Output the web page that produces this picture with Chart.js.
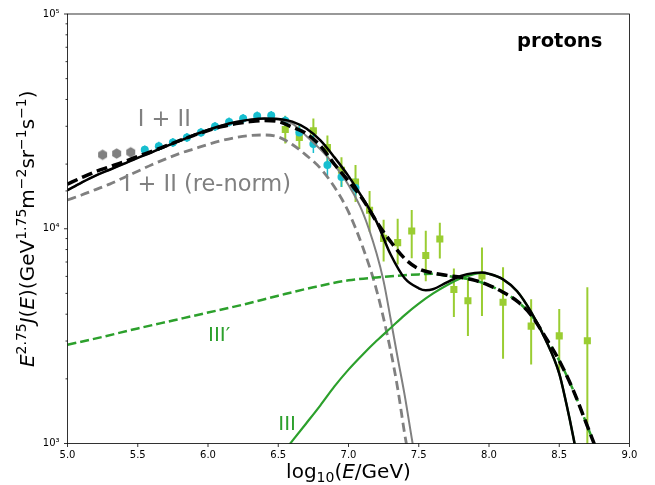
<!DOCTYPE html>
<html>
<head>
<meta charset="utf-8">
<script src="https://cdn.jsdelivr.net/npm/chart.js@4/dist/chart.umd.min.js"></script>
<style>
  html, body { margin: 0; padding: 0; background: #fff; }
  #wrap { width: 655px; height: 485px; }
</style>
</head>
<body>
<div id="wrap"><canvas id="c" width="655" height="485"></canvas></div>
<script>
// ---- measured fluxes: E^2.75 J(E) ----
const grayX = [5.25, 5.35, 5.45];
const grayY = [22100, 22400, 22700];

const cyanX  = [5.55, 5.65, 5.75, 5.85, 5.95, 6.05, 6.15, 6.25, 6.35, 6.45, 6.55, 6.65, 6.75, 6.85, 6.95, 7.05];
const cyanY  = [23300, 24200, 25200, 26600, 28100, 29900, 31400, 32600, 33500, 33700, 31800, 28100, 24800, 19800, 17400, 15500];
const cyanLo = [22210, 23070, 24020, 25360, 26790, 28500, 29930, 31080, 31940, 32130, 30150, 26080, 22540, 17610, 15640, 13940];
const cyanHi = [24440, 25390, 26430, 27900, 29480, 31370, 32940, 34200, 35140, 35350, 33540, 30270, 27290, 22260, 19350, 17240];

const greenX  = [6.55, 6.65, 6.75, 6.85, 6.95, 7.05, 7.15, 7.25, 7.35, 7.45, 7.55, 7.65, 7.75, 7.85, 7.95, 8.1, 8.3, 8.5, 8.7];
const greenY  = [28960, 26600, 28570, 23920, 18730, 16490, 12200, 9020, 8620, 9760, 7500, 8960, 5210, 4620, 6020, 4550, 3520, 3170, 3010];
const greenLo = [24960, 23490, 23920, 20390, 15630, 13330, 9690, 7040, 6820, 7290, 5690, 7270, 3880, 3170, 3920, 2480, 2330, 2140, 800];
const greenHi = [33620, 30230, 32570, 27180, 21500, 19820, 14980, 11010, 11120, 12240, 9790, 10660, 6535, 5810, 8170, 6625, 4700, 4230, 5340];

// ---- model curves ----
// total, model with component III
const totalX = [5.0, 5.1, 5.2, 5.3, 5.4, 5.5, 5.6, 5.7, 5.8, 5.9, 6.0, 6.1, 6.2, 6.3, 6.4, 6.5, 6.6, 6.7, 6.8, 6.9, 7.0, 7.1, 7.2, 7.3, 7.4, 7.5, 7.55, 7.6, 7.7, 7.8, 7.9, 7.95, 8.0, 8.1, 8.2, 8.3, 8.4, 8.5, 8.55, 8.6, 8.65];
const totalY = [15140, 16400, 17670, 18830, 20070, 21390, 22690, 24180, 25690, 27330, 28820, 30230, 31380, 32220, 32630, 32460, 31540, 29270, 25770, 21500, 17580, 13910, 10770, 7585, 5877, 5283, 5171, 5227, 5630, 6035, 6230, 6250, 6165, 5813, 5117, 4093, 3071, 2117, 1538, 1072, 715];

// total, model with component III'
const totalPX = [5.0, 5.1, 5.2, 5.3, 5.4, 5.5, 5.6, 5.7, 5.8, 5.9, 6.0, 6.1, 6.2, 6.3, 6.4, 6.5, 6.6, 6.7, 6.8, 6.9, 7.0, 7.1, 7.2, 7.3, 7.4, 7.5, 7.6, 7.7, 7.8, 7.9, 8.0, 8.1, 8.2, 8.3, 8.4, 8.5, 8.6, 8.7, 8.76];
const totalPY = [16140, 17290, 18440, 19440, 20500, 21740, 22930, 24310, 25770, 27240, 28670, 29910, 30880, 31540, 31880, 31540, 29750, 27760, 24310, 19970, 16670, 13760, 10770, 8710, 7268, 6501, 6230, 6066, 5938, 5752, 5454, 5063, 4600, 3964, 3137, 2431, 1767, 1205, 953];

// components I + II
const galX = [5.0, 5.1, 5.2, 5.3, 5.4, 5.5, 5.6, 5.7, 5.8, 5.9, 6.0, 6.1, 6.2, 6.3, 6.4, 6.5, 6.6, 6.7, 6.8, 6.9, 7.0, 7.1, 7.2, 7.25, 7.3, 7.35, 7.4, 7.45, 7.47];
const galY = [15140, 16400, 17670, 18830, 20070, 21390, 22690, 24180, 25690, 27330, 28820, 30230, 31380, 32220, 32560, 32280, 30880, 27040, 23420, 19760, 15970, 11980, 7666, 5690, 3800, 2509, 1675, 1060, 885];

// components I + II, re-normalised
const galRX = [5.0, 5.1, 5.2, 5.3, 5.4, 5.5, 5.6, 5.7, 5.8, 5.9, 6.0, 6.1, 6.2, 6.3, 6.4, 6.5, 6.6, 6.7, 6.8, 6.9, 7.0, 7.1, 7.2, 7.3, 7.35, 7.4, 7.42];
const galRY = [13610, 14360, 15220, 16140, 17290, 18530, 19860, 21160, 22440, 23540, 24690, 25770, 26600, 27180, 27330, 26750, 24690, 21970, 19130, 15630, 11980, 8259, 5171, 2703, 1805, 1106, 933];

// component III'
const compPX = [5.0, 5.25, 5.5, 5.75, 6.0, 6.25, 6.5, 6.75, 7.0, 7.25, 7.5, 7.6, 7.7, 7.8, 7.9, 8.0, 8.1, 8.2, 8.3, 8.4, 8.5, 8.6, 8.7, 8.76];
const compPY = [2881, 3137, 3434, 3739, 4071, 4434, 4878, 5340, 5752, 5970, 6131, 6165, 6035, 5906, 5752, 5454, 5063, 4600, 3964, 3137, 2431, 1767, 1205, 953];

// component III
const compX = [6.55, 6.7, 6.8, 6.9, 7.0, 7.1, 7.2, 7.3, 7.4, 7.5, 7.6, 7.7, 7.8, 7.9, 7.95, 8.0, 8.1, 8.2, 8.3, 8.4, 8.5, 8.55, 8.6, 8.65];
const compY = [935, 1243, 1506, 1844, 2208, 2591, 3007, 3452, 3964, 4481, 4984, 5454, 5877, 6165, 6230, 6165, 5813, 5117, 4093, 3071, 2117, 1538, 1072, 715];

// axis ticks
const xTicks = [5.0, 5.5, 6.0, 6.5, 7.0, 7.5, 8.0, 8.5, 9.0];
const yDecades = [3, 4, 5];

// ---- helpers ----
const FONT = '"DejaVu Sans"';
const pts = (xs, ys) => xs.map((x, i) => ({ x: x, y: ys[i] }));
const SUP = { '3': '\u00b3', '4': '\u2074', '5': '\u2075' };

function hexagonMarker(r, color) {
  const s = Math.ceil(2 * r + 2);
  const c = document.createElement('canvas');
  c.width = s; c.height = s;
  const g = c.getContext('2d');
  g.fillStyle = color;
  g.beginPath();
  for (let k = 0; k < 6; k++) {
    const a = -Math.PI / 2 + k * Math.PI / 3;
    const px = s / 2 + r * Math.cos(a), py = s / 2 + r * Math.sin(a);
    if (k) g.lineTo(px, py); else g.moveTo(px, py);
  }
  g.closePath();
  g.fill();
  return c;
}

function curve(xs, ys, color, width, dash, order) {
  return {
    data: pts(xs, ys),
    showLine: true,
    borderColor: color,
    borderWidth: width,
    borderDash: dash,
    pointRadius: 0,
    pointHoverRadius: 0,
    cubicInterpolationMode: 'monotone',
    fill: false,
    clip: 0,
    order: order
  };
}

function markers(xs, ys, color, style, radius, order) {
  return {
    data: pts(xs, ys),
    showLine: false,
    pointStyle: style,
    pointRadius: radius,
    pointHoverRadius: radius,
    backgroundColor: color,
    borderColor: color,
    borderWidth: 0,
    order: order
  };
}

// mixed roman / italic / super- / subscript text, centred on the origin
function richText(ctx, parts, size) {
  const fontOf = p => (p.it ? 'italic ' : '') + ((p.sup || p.sub) ? size * 0.7 : size) + 'px ' + FONT;
  let w = 0;
  parts.forEach(p => { ctx.font = fontOf(p); p.w = ctx.measureText(p.t).width; w += p.w; });
  let x = -w / 2;
  ctx.textAlign = 'left';
  ctx.textBaseline = 'alphabetic';
  parts.forEach(p => {
    ctx.font = fontOf(p);
    const dy = p.sup ? -0.42 * size : (p.sub ? 0.2 * size : 0);
    ctx.fillText(p.t, x, dy);
    x += p.w;
  });
}

// error bars under the markers
const errorBars = {
  id: 'errorBars',
  beforeDatasetsDraw(chart) {
    const { ctx, chartArea: a } = chart;
    const xs = chart.scales.x, ys = chart.scales.y;
    ctx.save();
    ctx.beginPath();
    ctx.rect(a.left, a.top, a.right - a.left, a.bottom - a.top);
    ctx.clip();
    const draw = (X, lo, hi, color, w) => {
      ctx.strokeStyle = color;
      ctx.lineWidth = w;
      X.forEach((v, i) => {
        const px = xs.getPixelForValue(v);
        ctx.beginPath();
        ctx.moveTo(px, ys.getPixelForValue(lo[i]));
        ctx.lineTo(px, ys.getPixelForValue(hi[i]));
        ctx.stroke();
      });
    };
    draw(greenX, greenLo, greenHi, '#9acd32', 2);
    draw(cyanX, cyanLo, cyanHi, '#17becf', 1.5);
    ctx.restore();
  }
};

// curve labels and panel name
const annotations = {
  id: 'annotations',
  afterDatasetsDraw(chart) {
    const { ctx, chartArea: a } = chart;
    const xs = chart.scales.x, ys = chart.scales.y;
    const put = (txt, x, y, font, color) => {
      ctx.font = font;
      ctx.fillStyle = color;
      ctx.textAlign = 'left';
      ctx.textBaseline = 'alphabetic';
      ctx.fillText(txt, xs.getPixelForValue(x), ys.getPixelForValue(y));
    };
    ctx.save();
    put('I + II', 5.5, 30000, '22.5px ' + FONT, '#808080');
    put('I + II (re-norm)', 5.4, 15000, '22.5px ' + FONT, '#808080');
    put('III\u2032', 6.0, 3000, '20px ' + FONT, '#2ca02c');
    put('III', 6.5, 1150, '20px ' + FONT, '#2ca02c');
    ctx.font = 'bold 19.5px ' + FONT;
    ctx.fillStyle = '#000';
    ctx.fillText('protons', a.left + 0.8 * (a.right - a.left), a.top + 33);
    ctx.restore();
  }
};

// frame, tick marks and axis titles
const frame = {
  id: 'frame',
  afterDraw(chart) {
    const { ctx, chartArea: a } = chart;
    const xs = chart.scales.x, ys = chart.scales.y;
    ctx.save();
    ctx.strokeStyle = '#000';
    ctx.lineWidth = 0.8;
    ctx.strokeRect(a.left, a.top, a.right - a.left, a.bottom - a.top);
    ctx.beginPath();
    xs.ticks.forEach(t => {
      const px = xs.getPixelForValue(t.value);
      ctx.moveTo(px, a.bottom);
      ctx.lineTo(px, a.bottom + 3.5);
    });
    ys.ticks.forEach(t => {
      const py = ys.getPixelForValue(t.value);
      const e = Math.log10(t.value);
      const major = Math.abs(e - Math.round(e)) < 1e-9;
      ctx.moveTo(a.left, py);
      ctx.lineTo(a.left - (major ? 3.5 : 2), py);
    });
    ctx.stroke();

    ctx.fillStyle = '#000';
    // x title
    ctx.save();
    ctx.translate((a.left + a.right) / 2, 478);
    richText(ctx, [
      { t: 'log' }, { t: '10', sub: true }, { t: '(' }, { t: 'E', it: true }, { t: '/GeV)' }
    ], 20);
    ctx.restore();
    // y title
    ctx.save();
    ctx.translate(34, (a.top + a.bottom) / 2);
    ctx.rotate(-Math.PI / 2);
    richText(ctx, [
      { t: 'E', it: true }, { t: '2.75', sup: true }, { t: 'J', it: true }, { t: '(' }, { t: 'E', it: true }, { t: ')' },
      { t: '(GeV' }, { t: '1.75', sup: true }, { t: 'm' }, { t: '\u22122', sup: true },
      { t: 'sr' }, { t: '\u22121', sup: true }, { t: 's' }, { t: '\u22121', sup: true }, { t: ')' }
    ], 20);
    ctx.restore();
    ctx.restore();
  }
};

new Chart(document.getElementById('c'), {
  type: 'scatter',
  data: {
    datasets: [
      curve(totalX, totalY, '#000000', 2.5, [], 1),
      curve(totalPX, totalPY, '#000000', 3.5, [11, 5], 2),
      curve(compX, compY, '#2ca02c', 2.2, [], 3),
      curve(compPX, compPY, '#2ca02c', 2.5, [9, 4], 4),
      curve(galX, galY, '#808080', 2, [], 5),
      curve(galRX, galRY, '#808080', 2.8, [9, 5], 6),
      markers(cyanX, cyanY, '#17becf', 'circle', 4, 10),
      markers(greenX, greenY, '#9acd32', 'rect', 5, 11),
      markers(grayX, grayY, '#808080', hexagonMarker(5.2, '#808080'), 5.2, 12)
    ]
  },
  options: {
    responsive: false,
    devicePixelRatio: 1,
    animation: false,
    events: [],
    layout: { padding: { top: 10.5, right: 25.5, left: 0, bottom: 0 } },
    plugins: { legend: { display: false }, tooltip: { enabled: false } },
    scales: {
      x: {
        type: 'linear',
        min: 5, max: 9,
        afterFit: s => { s.height = 41.5; },
        afterBuildTicks: s => { s.ticks = xTicks.map(v => ({ value: v })); },
        grid: { display: false, drawTicks: false },
        border: { display: false },
        ticks: {
          autoSkip: false,
          maxRotation: 0,
          padding: 6,
          color: '#000',
          font: { family: 'DejaVu Sans', size: 10 },
          callback: v => Number(v).toFixed(1)
        }
      },
      y: {
        type: 'logarithmic',
        min: 1000, max: 100000,
        afterFit: s => { s.width = 67.5; },
        grid: { display: false, drawTicks: false },
        border: { display: false },
        ticks: {
          autoSkip: false,
          padding: 8,
          color: '#000',
          font: { family: 'DejaVu Sans', size: 10 },
          callback: v => {
            const e = Math.log10(v);
            const r = Math.round(e);
            return (Math.abs(e - r) < 1e-9 && yDecades.includes(r)) ? '10' + SUP[String(r)] : '';
          }
        }
      }
    }
  },
  plugins: [errorBars, annotations, frame]
});
</script>
</body>
</html>
